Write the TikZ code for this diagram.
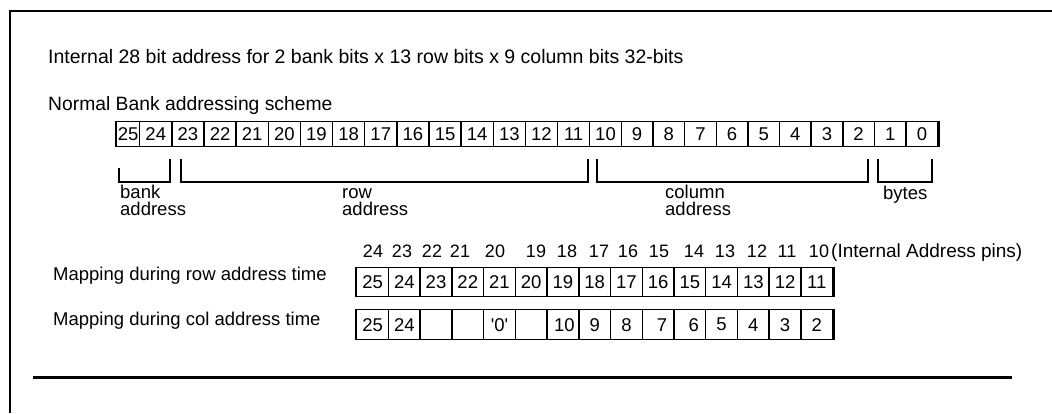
\documentclass[tikz,border=0pt]{standalone}
\usepackage{fontspec}
\setmainfont{Liberation Sans}[Ligatures=TeXOff]
\begin{document}
\begin{tikzpicture}[x=1pt,y=-1pt,
  box/.style={draw, line width=1.4pt, inner sep=0pt, anchor=north west,
    font=\fontsize{18.5}{18.5}\selectfont},
  lbl/.style={anchor=base west, inner sep=0pt, align=left,
    font=\fontsize{18.5}{17}\selectfont},
  pin/.style={anchor=base, inner sep=0pt, font=\fontsize{18}{18}\selectfont},
  brk/.style={line width=2.2pt},
  edge/.style={line width=2.8pt}]
\useasboundingbox (0,0) rectangle (1052,413);
% frame
\draw[line width=2.6pt] (10,413) -- (10,11) -- (1052,11);
% titles
\node[lbl, font=\fontsize{19.5}{19.5}\selectfont] (title) at (48,63) {Internal 28 bit address for 2 bank bits x 13 row bits x 9 column bits 32-bits};
\node[lbl, font=\fontsize{19.3}{19.3}\selectfont] (normal) at (48,110) {Normal Bank addressing scheme};
% top register
\foreach \n/\l/\w in {25/116/23, 24/139/32.14, 23/171.1/32.14, 22/203.3/32.14,
  21/235.4/32.14, 20/267.6/32.14, 19/299.7/32.14, 18/331.9/32.14, 17/364/32.14,
  16/396.1/32.14, 15/428.3/32.14, 14/460.4/32.14, 13/492.6/32.14, 12/524.7/32.14,
  11/556.9/32.14, 10/589/31.64, 9/620.6/31.64, 8/652.3/31.64, 7/683.9/31.64,
  6/715.5/31.64, 5/747.2/31.64, 4/778.8/31.64, 3/810.5/31.64, 2/842.1/31.64,
  1/873.7/31.64, 0/905.4/31.64}
  \node[box, minimum width=\w pt, minimum height=25pt] (t\n) at (\l,121) {\n};
\draw[edge] (t25.north west) -- (t25.south west);
\draw[edge] (t0.north east) -- (t0.south east);
% brackets
\draw[brk] (119,168) -- (119,182) -- (170,182) -- (170,159);
\draw[brk] (181,159) -- (181,182) -- (588,182) -- (588,159);
\draw[brk] (597,159) -- (597,182) -- (868,182) -- (868,159);
\draw[brk] (878,159) -- (878,182) -- (932,182) -- (932,159);
\node[lbl] (bank) at (120,215) {bank\\address};
\node[lbl] (row) at (342,215) {row\\address};
\node[lbl] (col) at (665,215) {column\\address};
\node[lbl] (bytes) at (883,199) {bytes};
% pin numbers
\foreach \n/\x in {24/373, 23/402, 22/432, 21/460, 20/495, 19/536, 18/567, 17/599,
  16/628, 15/659, 14/694, 13/725, 12/757, 11/787, 10/819}
  \node[pin] (p\n) at (\x,257) {\n};
\node[lbl, font=\fontsize{19}{19}\selectfont] (pins) at (831,257) {(Internal Address pins)};
% mapping rows
\node[lbl] (rowlbl) at (53,280) {Mapping during row address time};
\node[lbl] (collbl) at (53,325) {Mapping during col address time};
\foreach \n [count=\i from 0] in {25,24,23,22,21,20,19,18,17,16,15,14,13,12,11}
  \node[box, minimum width=31.73pt, minimum height=29pt] (r\i) at (356+31.73*\i,267) {\n};
\foreach \n [count=\i from 0] in {25,24,{},{},{'0'\hspace{8pt}},{},{\hspace{3pt}10},9,8,{\hspace{8pt}7},{\hspace{8pt}6},5,4,3,2}
  \node[box, minimum width=31.73pt, minimum height=30pt] (c\i) at (356+31.73*\i,309) {\n};
\draw[edge] (r0.north west) -- (r0.south west);
\draw[edge] (r14.north east) -- (r14.south east);
\draw[edge] (c0.north west) -- (c0.south west);
\draw[edge] (c14.north east) -- (c14.south east);
% bottom rule
\draw[line width=3pt] (33,377) -- (1012,377);
\end{tikzpicture}
\end{document}
